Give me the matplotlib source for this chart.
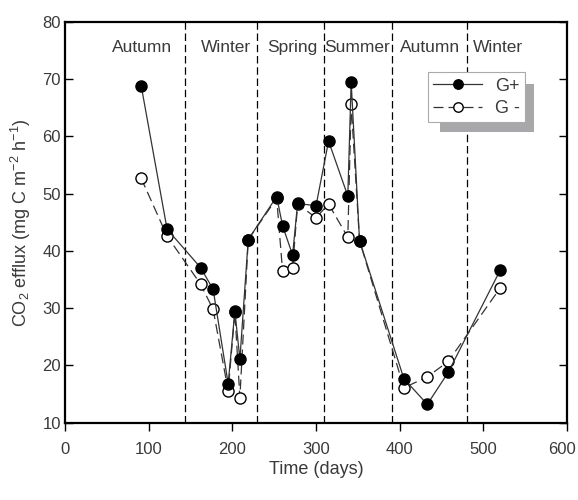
import matplotlib
matplotlib.use('Agg')
import matplotlib.pyplot as plt
import matplotlib.transforms as mtransforms
from matplotlib.patches import Rectangle

plt.rcParams['font.family'] = ['Liberation Sans', 'DejaVu Sans']
plt.rcParams['mathtext.fontset'] = 'custom'
plt.rcParams['mathtext.rm'] = 'Liberation Sans'

# G+ series (filled)
days_gplus = [91, 122, 162, 177, 195, 203, 209, 219, 253, 260, 272, 278, 300, 315, 338, 342, 352, 405, 433, 458, 520]
flux_gplus = [68.9, 43.8, 37.1, 33.3, 16.8, 29.5, 21.1, 42.0, 49.5, 44.4, 39.3, 48.3, 47.9, 59.2, 49.6, 69.5, 41.8, 17.7, 13.2, 18.8, 36.6]

# G- series (open)
days_gminus = [91, 122, 162, 177, 195, 203, 209, 219, 253, 260, 272, 278, 300, 315, 338, 342, 352, 405, 433, 458, 520]
flux_gminus = [52.7, 42.6, 34.2, 29.8, 15.6, 29.3, 14.4, 42.0, 49.2, 36.5, 37.0, 48.2, 45.8, 48.2, 42.4, 65.6, 41.8, 16.1, 18.0, 20.7, 33.5]

season_bounds = [143, 230, 310, 391, 480]
season_names = ['Autumn', 'Winter', 'Spring', 'Summer', 'Autumn', 'Winter']
season_centers = [92, 192, 272, 349, 436, 518]

txt = '#3a3a3a'
fig = plt.figure(figsize=(5.78, 5.0), dpi=100)
ax = fig.add_axes([0.1125, 0.1546, 0.8685, 0.8014])

for b in season_bounds:
    ax.axvline(b, color='black', lw=0.9, ls=(0, (6, 3)), zorder=1)

for name, c in zip(season_names, season_centers):
    ax.text(c, 75.6, name, ha='center', va='center', fontsize=12.5, color=txt)

ax.plot(days_gminus, flux_gminus, color='#333333', lw=0.9, ls=(0, (8, 4)),
        marker='o', ms=8, mfc='white', mec='black', mew=1.0, label='G -', zorder=3)
ax.plot(days_gplus, flux_gplus, color='#333333', lw=0.9,
        marker='o', ms=8, mfc='black', mec='black', label='G+', zorder=4)

ax.set_xlim(0, 600)
ax.set_ylim(10, 80)
ax.set_xticks(range(0, 601, 100))
ax.set_yticks(range(10, 81, 10))
ax.tick_params(axis='y', direction='in', length=6, width=1, right=True, labelsize=12, labelcolor=txt, pad=3)
ax.tick_params(axis='x', direction='out', length=6, width=1, labelsize=12, labelcolor=txt, pad=8)
for s in ax.spines.values():
    s.set_linewidth(1.6)

# last x label sits at the image edge, nudge it left a bit
last = ax.get_xticklabels()[-1]
last.set_transform(last.get_transform() + mtransforms.ScaledTranslation(-5 / 100, 0, fig.dpi_scale_trans))

ax.set_xlabel('Time (days)', fontsize=13, color=txt, labelpad=3)
ax.set_ylabel('CO$_2$ efflux (mg C m$^{-2}$ h$^{-1}$)', fontsize=13, color=txt, labelpad=7)

# legend with gray shadow
shadow = Rectangle((0.747, 0.725), 0.187, 0.12, transform=ax.transAxes,
                   facecolor='#a8a8aa', edgecolor='none', zorder=5)
ax.add_patch(shadow)
handles, labels = ax.get_legend_handles_labels()
leg = ax.legend(handles[::-1], labels[::-1], loc='upper left',
                bbox_to_anchor=(0.723, 0.875),
                fontsize=13, frameon=True, fancybox=False, borderpad=0.3, borderaxespad=0,
                handlelength=2.7, handletextpad=0.7, labelspacing=0.3, markerscale=0.85)
leg.get_frame().set_edgecolor('#aaaaaa')
leg.get_frame().set_linewidth(0.8)
leg.get_frame().set_alpha(1)
leg.set_zorder(6)
for t in leg.get_texts():
    t.set_color(txt)

fig.savefig('out.png', dpi=100)
